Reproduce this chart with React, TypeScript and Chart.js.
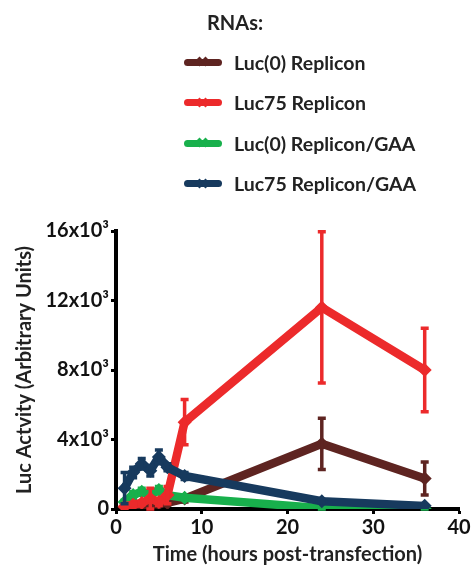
import React, { useEffect, useRef } from "react";
import { Chart, registerables } from "chart.js";

Chart.register(...registerables);

const times = [1, 2, 3, 4, 5, 6, 8, 24, 36];
const seriesNames = ["Luc(0) Replicon", "Luc75 Replicon", "Luc(0) Replicon/GAA", "Luc75 Replicon/GAA"];
const seriesColors = ["#5E2421", "#EC2A2B", "#18B04C", "#173A5E"];
const luc0 = [100, 150, 250, 250, 300, 350, 600, 3750, 1750];
const luc0Err = [50, 50, 100, 100, 100, 100, 200, 1470, 950];
const luc75 = [150, 250, 350, 600, 400, 800, 5000, 11600, 8000];
const luc75Err = [100, 100, 100, 600, 200, 500, 1300, 4350, 2400];
const luc0Gaa = [400, 800, 1000, 800, 1100, 800, 650, 50, 20];
const luc0GaaErr = [100, 200, 200, 100, 200, 100, 100, 50, 20];
const luc75Gaa = [1200, 2100, 2600, 2200, 3000, 2400, 1900, 450, 180];
const luc75GaaErr = [900, 300, 300, 300, 400, 200, 200, 100, 50];
const yTicks = [0, 4000, 8000, 12000, 16000];
const xTicks = [0, 10, 20, 30, 40];
const legendTitle = "RNAs:";
const xTitle = "Time (hours post-transfection)";
const yTitle = "Luc Actvity (Arbitrary Units)";

const seriesValues = [luc0, luc75, luc0Gaa, luc75Gaa];
const seriesErrors = [luc0Err, luc75Err, luc0GaaErr, luc75GaaErr];
const drawOrder = [3, 1, 2, 0];

const FONT = "Lato, 'Open Sans', sans-serif";

const errorBarPlugin = {
  id: "errorBars",
  afterDatasetDraw(chart: any, args: any) {
    const i = args.index;
    const errs = seriesErrors[i];
    const vals = seriesValues[i];
    if (!errs) return;
    const xs = chart.scales.x;
    const ys = chart.scales.y;
    const ctx = chart.ctx;
    ctx.save();
    ctx.strokeStyle = seriesColors[i];
    ctx.lineWidth = 3.5;
    ctx.lineCap = "butt";
    for (let k = 0; k < times.length; k++) {
      const x = xs.getPixelForValue(times[k]);
      const yTop = ys.getPixelForValue(vals[k] + errs[k]);
      const yBot = ys.getPixelForValue(Math.max(0, vals[k] - errs[k]));
      ctx.beginPath();
      ctx.moveTo(x, yTop);
      ctx.lineTo(x, yBot);
      ctx.moveTo(x - 4, yTop);
      ctx.lineTo(x + 4, yTop);
      ctx.moveTo(x - 4, yBot);
      ctx.lineTo(x + 4, yBot);
      ctx.stroke();
    }
    ctx.restore();
  },
};

function LegendSwatch({ color }: { color: string }) {
  return (
    <div style={{ position: "relative", width: 38, height: 12 }}>
      <div
        style={{
          position: "absolute",
          left: 0,
          top: 2.5,
          width: 38,
          height: 7,
          borderRadius: 4,
          background: color,
        }}
      />
      <div
        style={{
          position: "absolute",
          left: 12,
          top: 2,
          width: 7,
          height: 7,
          background: color,
          transform: "rotate(45deg)",
        }}
      />
      <div
        style={{
          position: "absolute",
          left: 18,
          top: 2,
          width: 7,
          height: 7,
          background: color,
          transform: "rotate(45deg)",
        }}
      />
    </div>
  );
}

export default function App() {
  const ref = useRef<HTMLCanvasElement | null>(null);

  useEffect(() => {
    if (!ref.current) return;
    const chart = new Chart(ref.current, {
      type: "line",
      data: {
        datasets: seriesNames.map((name, i) => ({
          label: name,
          data: times.map((t, k) => ({ x: t, y: seriesValues[i][k] })),
          borderColor: seriesColors[i],
          backgroundColor: seriesColors[i],
          borderWidth: 8.5,
          pointStyle: "rectRot",
          pointRadius: 7,
          pointBorderWidth: 0,
          tension: 0,
          order: drawOrder[i],
        })),
      },
      options: {
        animation: false,
        responsive: false,
        devicePixelRatio: 1,
        layout: { padding: { top: 231, right: 15, left: 6, bottom: 0 } },
        plugins: {
          legend: { display: false },
          tooltip: { enabled: false },
        },
        scales: {
          x: {
            type: "linear",
            min: 0,
            max: 40,
            afterBuildTicks: (s: any) => {
              s.ticks = xTicks.map((v) => ({ value: v }));
            },
            afterFit: (s: any) => {
              s.height = 58;
            },
            border: { display: true, color: "#000", width: 4 },
            grid: { display: true, drawOnChartArea: false, drawTicks: true, tickLength: 5, tickWidth: 3, tickColor: "#000" },
            ticks: {
              color: "#111",
              font: { family: FONT, size: 20, weight: "bold" },
              padding: 2,
              maxRotation: 0,
            },
            title: {
              display: true,
              text: xTitle,
              color: "#222",
              font: { family: FONT, size: 20, weight: "bold" },
              padding: { top: 0, bottom: 0 },
            },
          },
          y: {
            type: "linear",
            min: 0,
            max: 16000,
            afterBuildTicks: (s: any) => {
              s.ticks = yTicks.map((v) => ({ value: v }));
            },
            afterFit: (s: any) => {
              s.width = 110;
            },
            border: { display: true, color: "#000", width: 4 },
            grid: { display: true, drawOnChartArea: false, drawTicks: true, tickLength: 5, tickWidth: 3, tickColor: "#000" },
            ticks: {
              color: "#111",
              font: { family: FONT, size: 20, weight: "bold" },
              padding: 2,
              callback: (v: any) => (v === 0 ? "0" : `${v / 1000}x10³`),
            },
            title: {
              display: true,
              text: yTitle,
              color: "#222",
              font: { family: FONT, size: 20, weight: "bold" },
              padding: { top: 7, bottom: 0 },
            },
          },
        },
      },
      plugins: [errorBarPlugin],
    });
    return () => chart.destroy();
  }, []);

  return (
    <div style={{ position: "fixed", left: 0, top: 0, width: 474, height: 567, background: "#fff" }}>
      <canvas ref={ref} width={474} height={567} style={{ position: "absolute", left: 0, top: 0 }} />
      <div
        style={{
          position: "absolute",
          left: 207,
          top: 10,
          fontFamily: FONT,
          fontWeight: "bold",
          fontSize: 20,
          color: "#222",
          lineHeight: "24px",
        }}
      >
        {legendTitle}
      </div>
      {seriesNames.map((name, i) => (
        <div
          key={name}
          style={{
            position: "absolute",
            left: 184,
            top: 50 + i * 40.6,
            height: 24,
            display: "flex",
            alignItems: "center",
            fontFamily: FONT,
            fontWeight: "bold",
            fontSize: 19.5,
            color: "#222",
            whiteSpace: "nowrap",
          }}
        >
          <LegendSwatch color={seriesColors[i]} />
          <span style={{ marginLeft: 12 }}>{name}</span>
        </div>
      ))}
    </div>
  );
}
